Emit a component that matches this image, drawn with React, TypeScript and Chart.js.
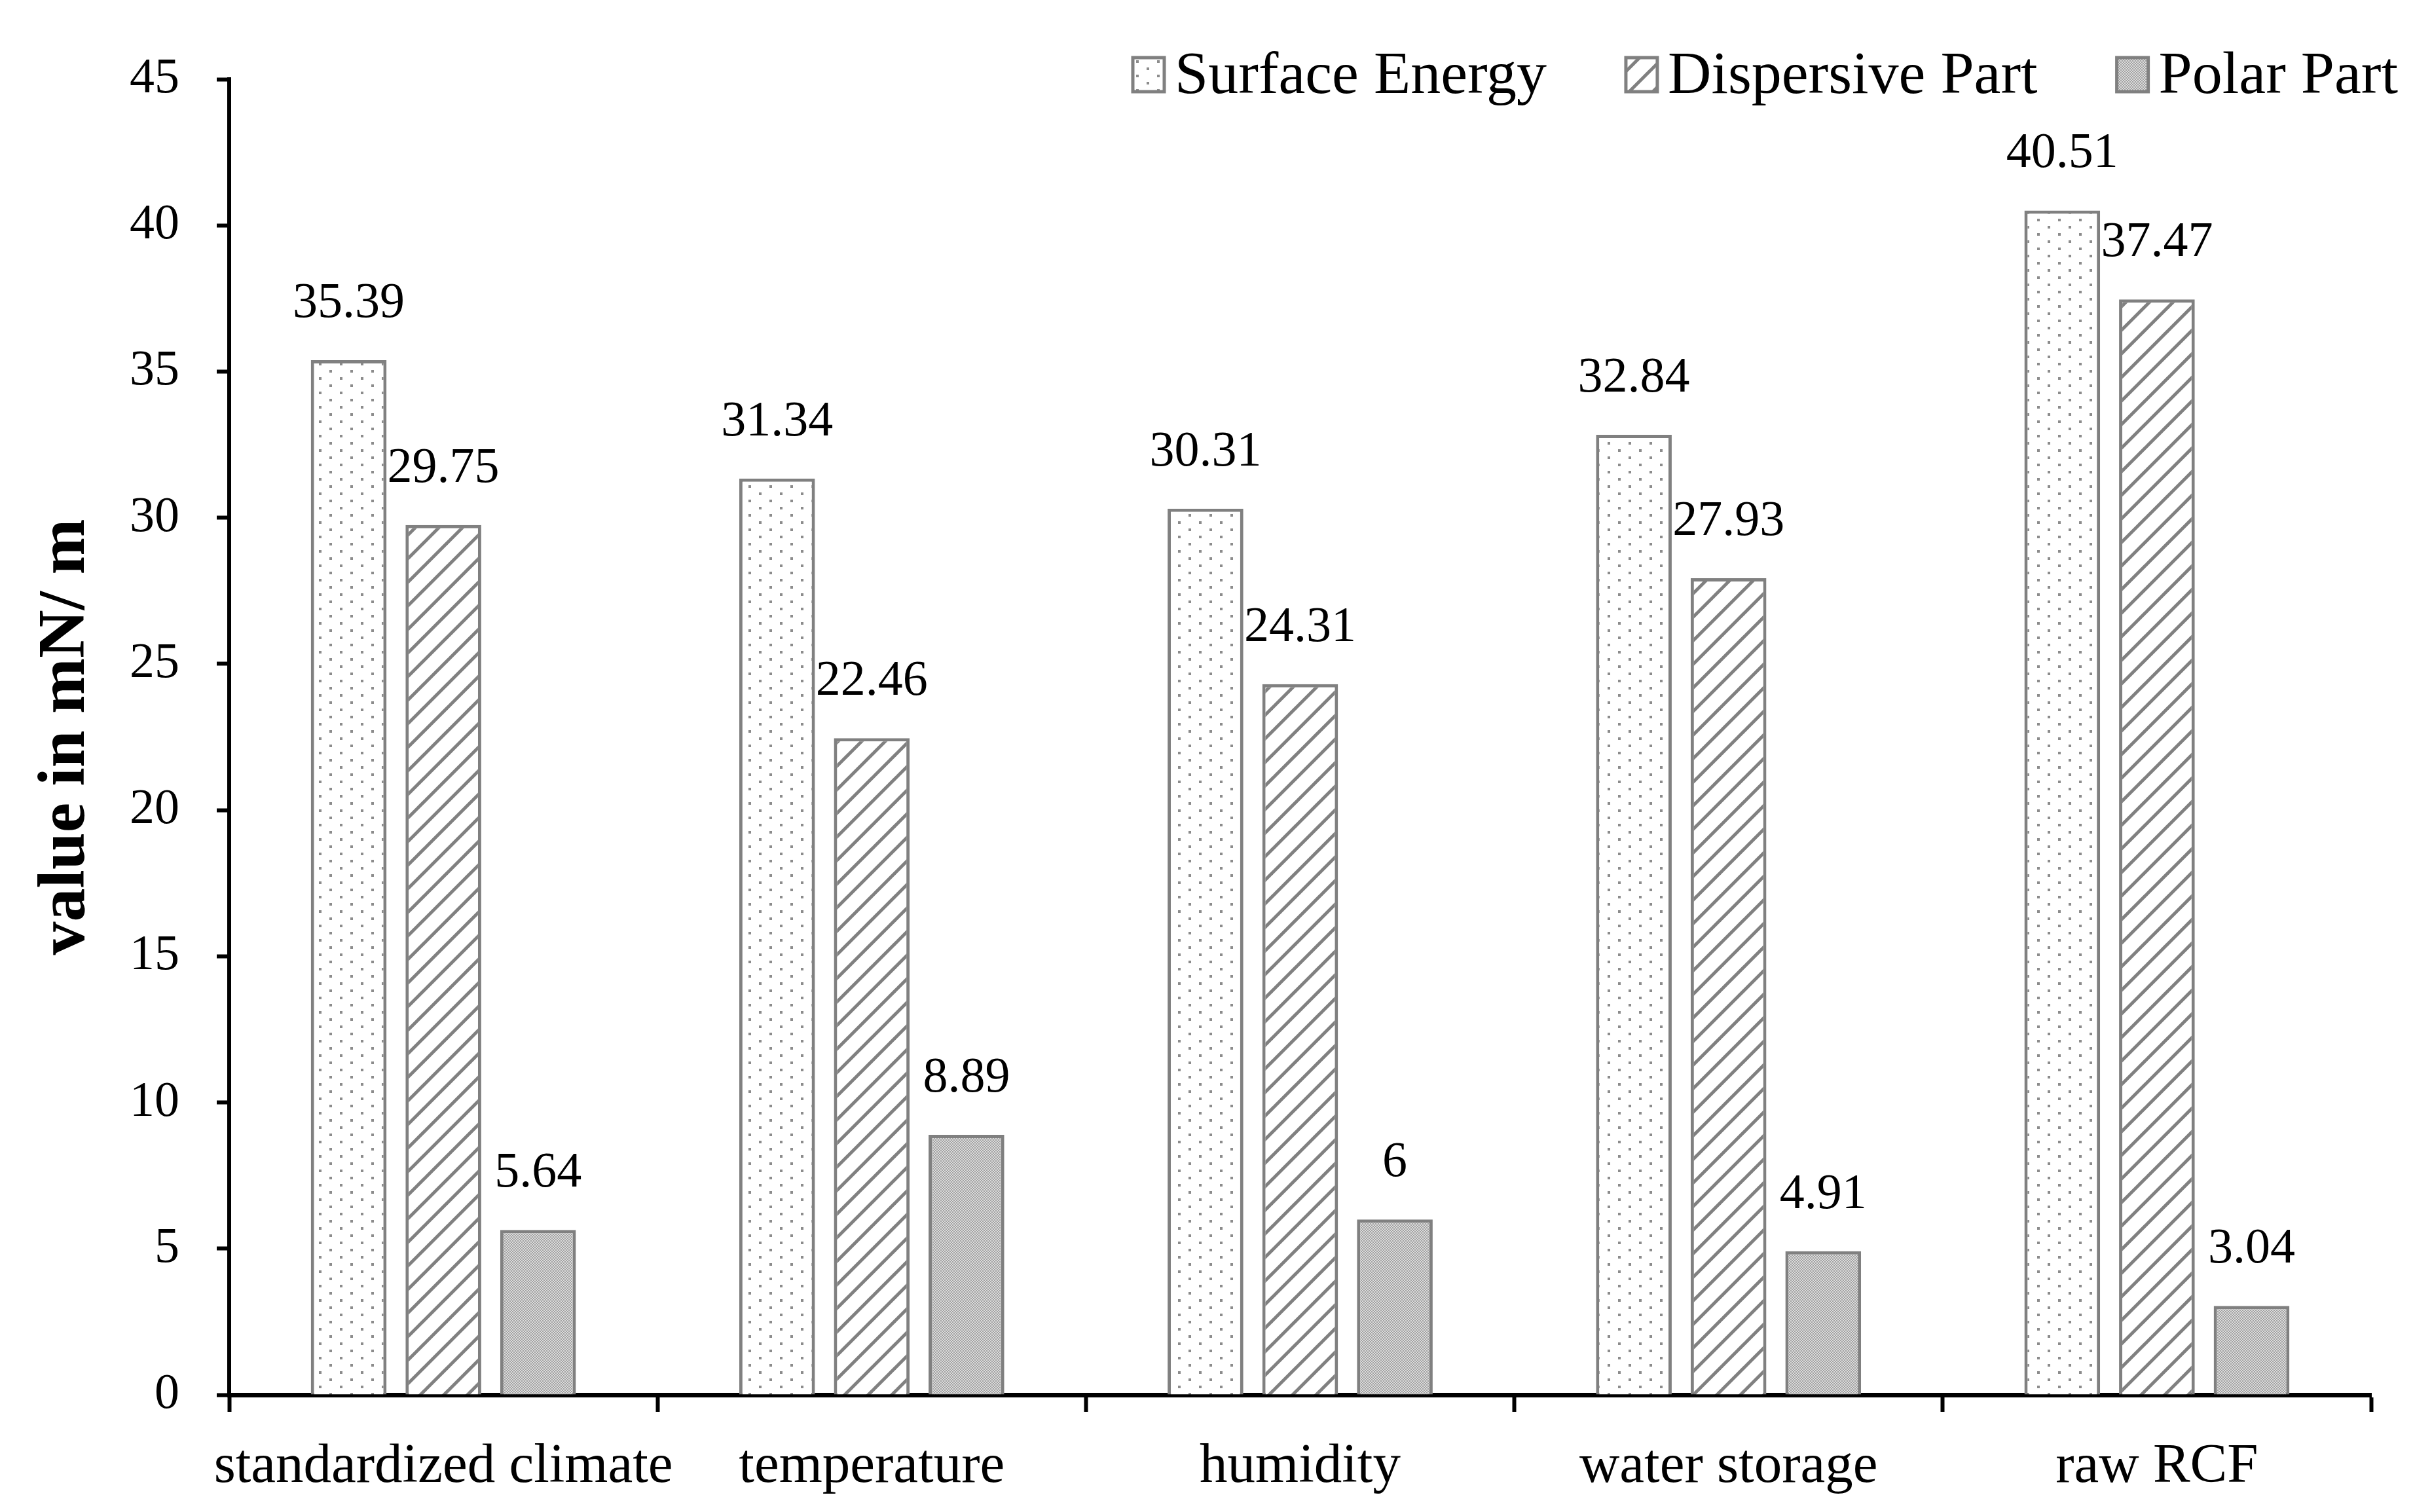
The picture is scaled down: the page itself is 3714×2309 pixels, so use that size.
import React, { useEffect, useRef } from "react";
import { Chart, registerables } from "chart.js";

Chart.register(...registerables);

const categories = ["standardized climate", "temperature", "humidity", "water storage", "raw RCF"];
const seriesNames = ["Surface Energy", "Dispersive Part", "Polar Part"];
const surfaceEnergy = [35.39, 31.34, 30.31, 32.84, 40.51];
const dispersivePart = [29.75, 22.46, 24.31, 27.93, 37.47];
const polarPart = [5.64, 8.89, 6, 4.91, 3.04];
const yMin = 0;
const yMax = 45;
const yStep = 5;
const yTitle = "value in mN/ m";

const FONT = "'Liberation Serif', 'DejaVu Serif', serif";
const W = 3714;
const H = 2309;

function makeDots(ctx: CanvasRenderingContext2D) {
  const c = document.createElement("canvas");
  c.width = 32;
  c.height = 22;
  const g = c.getContext("2d")!;
  g.fillStyle = "#ffffff";
  g.fillRect(0, 0, 32, 22);
  g.fillStyle = "#8c8c8c";
  g.fillRect(7, 4, 4, 4);
  g.fillRect(23, 15, 4, 4);
  return ctx.createPattern(c, "repeat")!;
}

function makeHatch(ctx: CanvasRenderingContext2D) {
  const s = 36;
  const c = document.createElement("canvas");
  c.width = s;
  c.height = s;
  const g = c.getContext("2d")!;
  g.fillStyle = "#ffffff";
  g.fillRect(0, 0, s, s);
  g.strokeStyle = "#808080";
  g.lineWidth = 5;
  g.lineCap = "square";
  for (const k of [-1, 0, 1]) {
    g.beginPath();
    g.moveTo(k * s, s);
    g.lineTo(k * s + s, 0);
    g.stroke();
  }
  return ctx.createPattern(c, "repeat")!;
}

function makeChecker(ctx: CanvasRenderingContext2D) {
  const c = document.createElement("canvas");
  c.width = 4;
  c.height = 4;
  const g = c.getContext("2d")!;
  g.fillStyle = "#dcdcdc";
  g.fillRect(0, 0, 4, 4);
  g.fillStyle = "#a2a2a2";
  g.fillRect(0, 0, 2, 2);
  g.fillRect(2, 2, 2, 2);
  return ctx.createPattern(c, "repeat")!;
}

const valueLabels = {
  id: "valueLabels",
  afterDatasetsDraw(chart: any) {
    const ctx = chart.ctx as CanvasRenderingContext2D;
    ctx.save();
    ctx.font = `76px ${FONT}`;
    ctx.fillStyle = "#000000";
    ctx.textAlign = "center";
    ctx.textBaseline = "middle";
    chart.data.datasets.forEach((ds: any, i: number) => {
      const meta = chart.getDatasetMeta(i);
      meta.data.forEach((bar: any, j: number) => {
        ctx.fillText(String(ds.data[j]), bar.x, bar.y - 86);
      });
    });
    ctx.restore();
  },
};

const customLegend = {
  id: "customLegend",
  afterDraw(chart: any) {
    const ctx = chart.ctx as CanvasRenderingContext2D;
    const size = 92;
    const boxW = 48;
    const boxH = 52;
    const gapBT = 16;
    const gapItems = 121;
    const right = 3662;
    const cy = 114;
    ctx.save();
    ctx.font = `${size}px ${FONT}`;
    const ds = chart.data.datasets;
    const widths = ds.map((d: any) => boxW + gapBT + ctx.measureText(d.label).width);
    const total = widths.reduce((a: number, b: number) => a + b, 0) + gapItems * (ds.length - 1);
    let x = right - total;
    ds.forEach((d: any, i: number) => {
      ctx.fillStyle = d.backgroundColor;
      ctx.fillRect(x, cy - boxH / 2, boxW, boxH);
      ctx.strokeStyle = "#808080";
      ctx.lineWidth = 5;
      ctx.strokeRect(x, cy - boxH / 2, boxW, boxH);
      ctx.fillStyle = "#000000";
      ctx.textAlign = "left";
      ctx.textBaseline = "middle";
      ctx.fillText(d.label, x + boxW + gapBT, cy + 4);
      x += widths[i] + gapItems;
    });
    ctx.restore();
  },
};

export default function App() {
  const ref = useRef<HTMLCanvasElement | null>(null);

  useEffect(() => {
    const canvas = ref.current;
    if (!canvas) return;
    const ctx = canvas.getContext("2d")!;
    const fills = [makeDots(ctx), makeHatch(ctx), makeChecker(ctx)];
    const values = [surfaceEnergy, dispersivePart, polarPart];

    const chart = new Chart(canvas, {
      type: "bar",
      data: {
        labels: categories,
        datasets: values.map((v, i) => ({
          label: seriesNames[i],
          data: v,
          backgroundColor: fills[i] as any,
          borderColor: "#808080",
          borderWidth: 5,
          borderSkipped: "bottom" as any,
          categoryPercentage: 0.663,
          barPercentage: 0.8,
        })),
      },
      options: {
        responsive: false,
        animation: false,
        devicePixelRatio: 1,
        layout: { padding: { top: 121, right: 93, left: 0, bottom: 0 } },
        plugins: {
          legend: { display: false },
          tooltip: { enabled: false },
        },
        scales: {
          x: {
            grid: {
              display: true,
              drawOnChartArea: false,
              drawTicks: true,
              tickLength: 26,
              tickWidth: 6,
              tickColor: "#000000",
              offset: true,
            },
            border: { display: true, color: "#000000", width: 7 },
            ticks: {
              color: "#000000",
              font: { family: FONT, size: 85 },
              padding: 34,
              maxRotation: 0,
              minRotation: 0,
              autoSkip: false,
            },
            afterFit(scale: any) {
              scale.height = H - 2130;
            },
          },
          y: {
            min: yMin,
            max: yMax,
            ticks: {
              stepSize: yStep,
              color: "#000000",
              font: { family: FONT, size: 76 },
              padding: 57,
            },
            grid: {
              display: true,
              drawOnChartArea: false,
              drawTicks: true,
              tickLength: 19,
              tickWidth: 6,
              tickColor: "#000000",
            },
            border: { display: true, color: "#000000", width: 6 },
            title: {
              display: true,
              text: yTitle,
              color: "#000000",
              font: { family: FONT, size: 102, weight: "bold" },
              padding: { top: 40, bottom: 0 },
            },
            afterFit(scale: any) {
              scale.width = 350;
            },
          },
        },
      },
      plugins: [valueLabels, customLegend],
    });

    return () => chart.destroy();
  }, []);

  return (
    <div style={{ position: "fixed", left: 0, top: 0, width: W, height: H, background: "#ffffff" }}>
      <canvas ref={ref} width={W} height={H} style={{ width: W, height: H, display: "block" }} />
    </div>
  );
}
